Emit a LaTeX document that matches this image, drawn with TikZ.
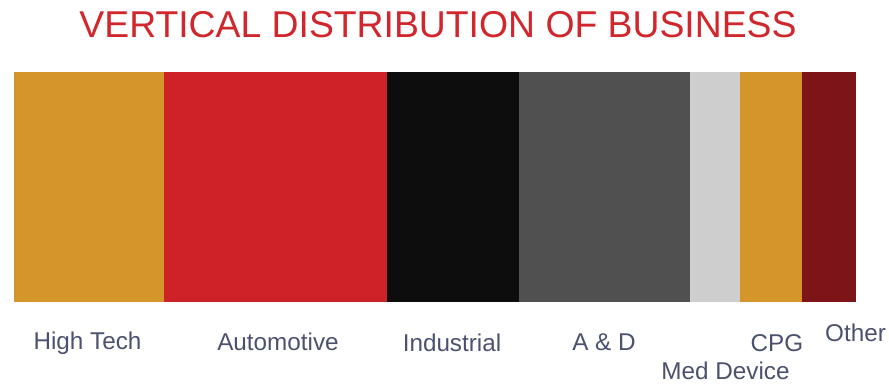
\documentclass[tikz,border=0pt]{standalone}
\usepackage{fontspec}
\setmainfont{Liberation Sans}
\definecolor{cgold}{HTML}{D4952A}
\definecolor{cred}{HTML}{CF2228}
\definecolor{cblack}{HTML}{0D0D0D}
\definecolor{cdgray}{HTML}{505050}
\definecolor{clgray}{HTML}{CECECE}
\definecolor{cdred}{HTML}{7D1418}
\definecolor{ctitle}{HTML}{D0262C}
\definecolor{clabel}{HTML}{4B5270}
\begin{document}
\begin{tikzpicture}[x=0.75pt,y=-0.75pt,
  lbl/.style={anchor=base,inner sep=0pt,text=clabel,font=\fontsize{18.2}{21}\selectfont}]
\useasboundingbox[fill=white] (0,0) rectangle (889,390);
\node[anchor=base,inner sep=0pt,text=ctitle,font=\fontsize{28}{32}\selectfont] (title) at (438,37) {VERTICAL DISTRIBUTION OF BUSINESS};
\fill[cgold] (14,72) rectangle (164,302);
\fill[cred] (164,72) rectangle (387,302);
\fill[cblack] (387,72) rectangle (519,302);
\fill[cdgray] (519,72) rectangle (690,302);
\fill[clgray] (690,72) rectangle (740,302);
\fill[cgold] (740,72) rectangle (802,302);
\fill[cdred] (802,72) rectangle (856,302);
\node[lbl] (ht) at (87.5,349) {High Tech};
\node[lbl] (au) at (278,350) {Automotive};
\node[lbl] (in) at (452,351) {Industrial};
\node[lbl] (ad) at (604,350) {A \& D};
\node[lbl] (cp) at (777,351) {CPG};
\node[lbl] (ot) at (855.5,341) {Other};
\node[lbl] (md) at (725.5,379) {Med Device};
\end{tikzpicture}
\end{document}
